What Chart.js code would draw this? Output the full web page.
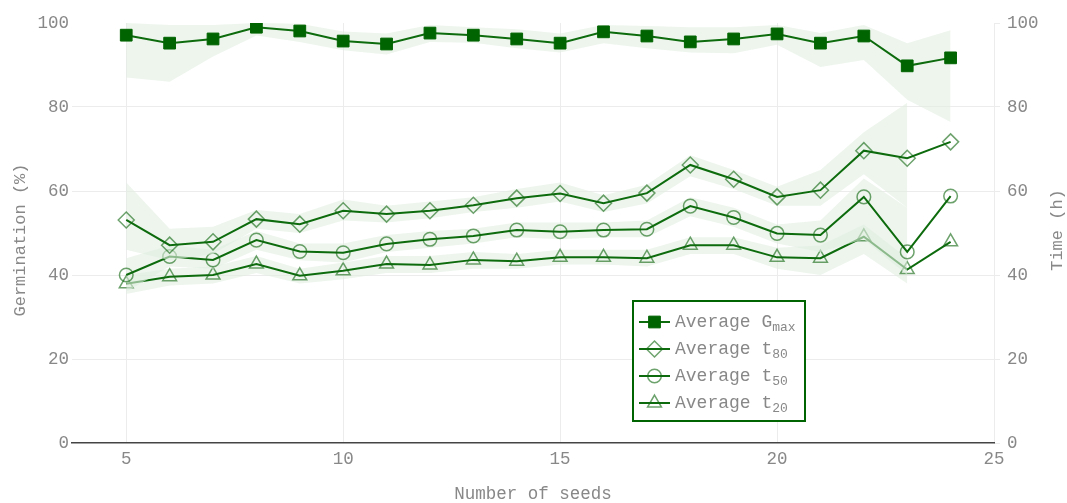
<!DOCTYPE html>
<html><head><meta charset="utf-8">
<script src="https://cdn.jsdelivr.net/npm/chart.js@4.4.1/dist/chart.umd.min.js"></script>
<style>html,body{margin:0;padding:0;background:#fff;}#wrap{width:1067px;height:503px;position:relative;}</style>
</head><body><div id="wrap"><canvas id="c" width="1067" height="503"></canvas></div>
<script>
const seeds = [5,6,7,8,9,10,11,12,13,14,15,16,17,18,19,20,21,22,23,24];
const gmax      = [97.1,95.2,96.2,99.0,98.1,95.7,95.0,97.6,97.1,96.2,95.2,97.9,96.9,95.5,96.2,97.4,95.2,96.9,89.8,91.7];
const gmaxUpper = [100,99.5,99.5,100,99.8,98.0,97.5,99.5,99.0,98.5,97.5,99.5,99.3,99.0,99.0,99.5,97.6,99.5,95.2,98.3];
const gmaxLower = [87.0,86.0,92.0,97.0,95.5,93.5,92.5,95.5,95.3,94.0,93.0,95.2,94.0,93.0,92.8,94.8,89.5,91.2,81.7,76.4];
const t80      = [53.1,47.1,47.9,53.3,52.1,55.3,54.5,55.3,56.6,58.3,59.4,57.1,59.5,66.2,62.8,58.6,60.2,69.6,67.8,71.7];
const t80Upper = [62.0,51.0,51.5,55.5,54.5,58.0,56.5,57.5,58.5,60.5,62.0,59.0,61.5,68.5,65.0,61.0,65.0,74.0,81.0,null];
const t80Lower = [46.0,43.5,45.0,51.0,50.0,53.0,52.5,53.5,55.0,56.0,57.5,55.0,57.0,63.5,60.5,56.5,56.5,64.0,56.0,null];
const t50      = [40.0,44.4,43.6,48.3,45.6,45.3,47.4,48.5,49.3,50.7,50.3,50.7,50.9,56.4,53.7,49.9,49.5,58.6,45.5,58.8];
const t50Upper = [44.0,47.0,46.0,50.5,47.5,47.5,49.5,50.5,51.0,52.5,52.5,52.5,53.0,58.5,56.0,52.0,53.0,63.0,56.0,null];
const t50Lower = [36.0,42.0,41.5,46.0,43.5,43.0,45.5,46.5,47.5,49.0,48.5,49.0,49.0,54.0,51.5,47.5,45.5,48.5,40.0,null];
const t20      = [37.9,39.6,40.0,42.6,39.8,41.0,42.6,42.4,43.6,43.3,44.2,44.2,44.0,47.1,47.1,44.2,44.0,49.1,41.3,47.9];
const t20Upper = [40.0,41.5,42.0,44.5,41.5,43.0,44.5,44.5,45.5,45.0,46.0,46.0,46.0,49.0,49.0,46.5,47.0,52.0,44.0,null];
const t20Lower = [35.5,37.5,38.0,40.5,38.0,39.0,40.5,40.5,41.5,41.5,42.5,42.5,42.0,45.0,45.0,41.5,40.0,45.0,38.0,null];
const xTicks = [5,10,15,20,25];
const yTicks = [0,20,40,60,80,100];
const legendNames = [["Average G","max"],["Average t","80"],["Average t","50"],["Average t","20"]];

const FONT = "'Liberation Mono', monospace";
const TXT = '#888';
const DG = '#006400';
const LINE = '#0d6b0d';
const OPEN = 'rgba(20,105,20,0.62)';
const BAND = 'rgba(225,238,225,0.6)';

const pts = arr => seeds.map((s,i)=>({x:s, y:arr[i]}));
function band(up, lo, axis, ord){
  return [
    {data:pts(up), yAxisID:axis, fill:'+1', backgroundColor:BAND, borderWidth:0, pointRadius:0, order:ord, spanGaps:false},
    {data:pts(lo), yAxisID:axis, fill:false, borderWidth:0, pointRadius:0, order:ord, spanGaps:false}
  ];
}
function series(arr, axis, style, radius, filled, ord){
  return {data:pts(arr), yAxisID:axis, borderColor:LINE, borderWidth:2, fill:false,
    pointStyle:style, pointRadius:radius, pointHoverRadius:radius,
    pointBackgroundColor: filled ? DG : 'rgba(0,0,0,0)',
    pointBorderColor: filled ? DG : OPEN, pointBorderWidth: filled ? 1 : 1.5, order:ord};
}
const datasets = [
  ...band(gmaxUpper, gmaxLower, 'y', 9),
  series(gmax, 'y', 'rect', 8.3, true, 8),
  ...band(t20Upper, t20Lower, 'y2', 7),
  series(t20, 'y2', 'triangle', 8, false, 6),
  ...band(t50Upper, t50Lower, 'y2', 5),
  series(t50, 'y2', 'circle', 6.8, false, 4),
  ...band(t80Upper, t80Lower, 'y2', 3),
  series(t80, 'y2', 'rectRot', 8, false, 2)
];

function vTitle(ctx, text, x, y){
  ctx.save();
  ctx.translate(x, y);
  ctx.rotate(-Math.PI/2);
  ctx.font = "17px " + FONT;
  ctx.fillStyle = TXT;
  ctx.textAlign = 'center'; ctx.textBaseline = 'middle';
  ctx.fillText(text, 0, 0);
  ctx.restore();
}

const styles = [['rect',8.3,true],['rectRot',8,false],['circle',6.8,false],['triangle',8,false]];
const legendPlugin = {
  id:'customLegend',
  afterDraw(chart){
    const ctx = chart.ctx;
    ctx.save();
    ctx.fillStyle = '#fff';
    ctx.fillRect(633, 301, 172, 120);
    ctx.strokeStyle = DG; ctx.lineWidth = 2;
    ctx.strokeRect(633, 301, 172, 120);
    legendNames.forEach((nm, i) => {
      const y = 322 + i*27;
      ctx.strokeStyle = LINE; ctx.lineWidth = 2;
      ctx.beginPath(); ctx.moveTo(639, y); ctx.lineTo(670, y); ctx.stroke();
      const st = styles[i];
      ctx.fillStyle = st[2] ? DG : 'rgba(0,0,0,0)';
      ctx.strokeStyle = st[2] ? DG : OPEN;
      ctx.lineWidth = st[2] ? 1 : 1.5;
      Chart.helpers.drawPoint(ctx, {pointStyle: st[0], radius: st[1], borderWidth: ctx.lineWidth}, 654.5, y);
      ctx.fillStyle = TXT;
      ctx.textBaseline = 'middle';
      ctx.textAlign = 'left';
      ctx.font = "18px " + FONT;
      ctx.fillText(nm[0], 675, y);
      const w = ctx.measureText(nm[0]).width;
      ctx.font = "13px " + FONT;
      ctx.fillText(nm[1], 675 + w, y + 6);
    });
    vTitle(ctx, 'Germination (%)', 20, 240);
    vTitle(ctx, 'Time (h)', 1057, 230);
    ctx.restore();
  }
};

new Chart(document.getElementById('c'), {
  type:'line',
  data:{datasets},
  plugins:[legendPlugin],
  options:{
    responsive:false, animation:false, devicePixelRatio:1,
    layout:{padding:{top:23, left:0, right:0, bottom:0}},
    plugins:{legend:{display:false}, tooltip:{enabled:false}},
    elements:{line:{tension:0}},
    scales:{
      x:{type:'linear', min:3.75, max:25,
        afterBuildTicks: ax => { ax.ticks = xTicks.map(v=>({value:v})); },
        afterFit: ax => { ax.height = 60; },
        grid:{color:'#ececec', drawTicks:false},
        border:{color:'#444', width:1.5},
        ticks:{color:TXT, font:{family:FONT, size:17.5}, padding:6},
        title:{display:true, text:'Number of seeds', color:TXT, font:{family:FONT, size:17.5}, padding:{top:4,bottom:-2}}
      },
      y:{position:'left', min:0, max:100,
        afterBuildTicks: ax => { ax.ticks = yTicks.map(v=>({value:v})); },
        afterFit: ax => { ax.width = 72; },
        grid:{color: c => (c.tick && (c.tick.value===0 || c.tick.value===100)) ? 'rgba(0,0,0,0)' : '#ececec', drawTicks:false},
        border:{display:false},
        ticks:{color:TXT, font:{family:FONT, size:17.5}, padding:3},
        title:{display:false}
      },
      y2:{position:'right', min:0, max:100,
        afterBuildTicks: ax => { ax.ticks = yTicks.map(v=>({value:v})); },
        afterFit: ax => { ax.width = 73; },
        grid:{drawOnChartArea:false, drawTicks:true, tickLength:6, color:'#ececec'},
        border:{display:false},
        ticks:{color:TXT, font:{family:FONT, size:17.5}, padding:7},
        title:{display:false}
      }
    }
  }
});
</script></body></html>
